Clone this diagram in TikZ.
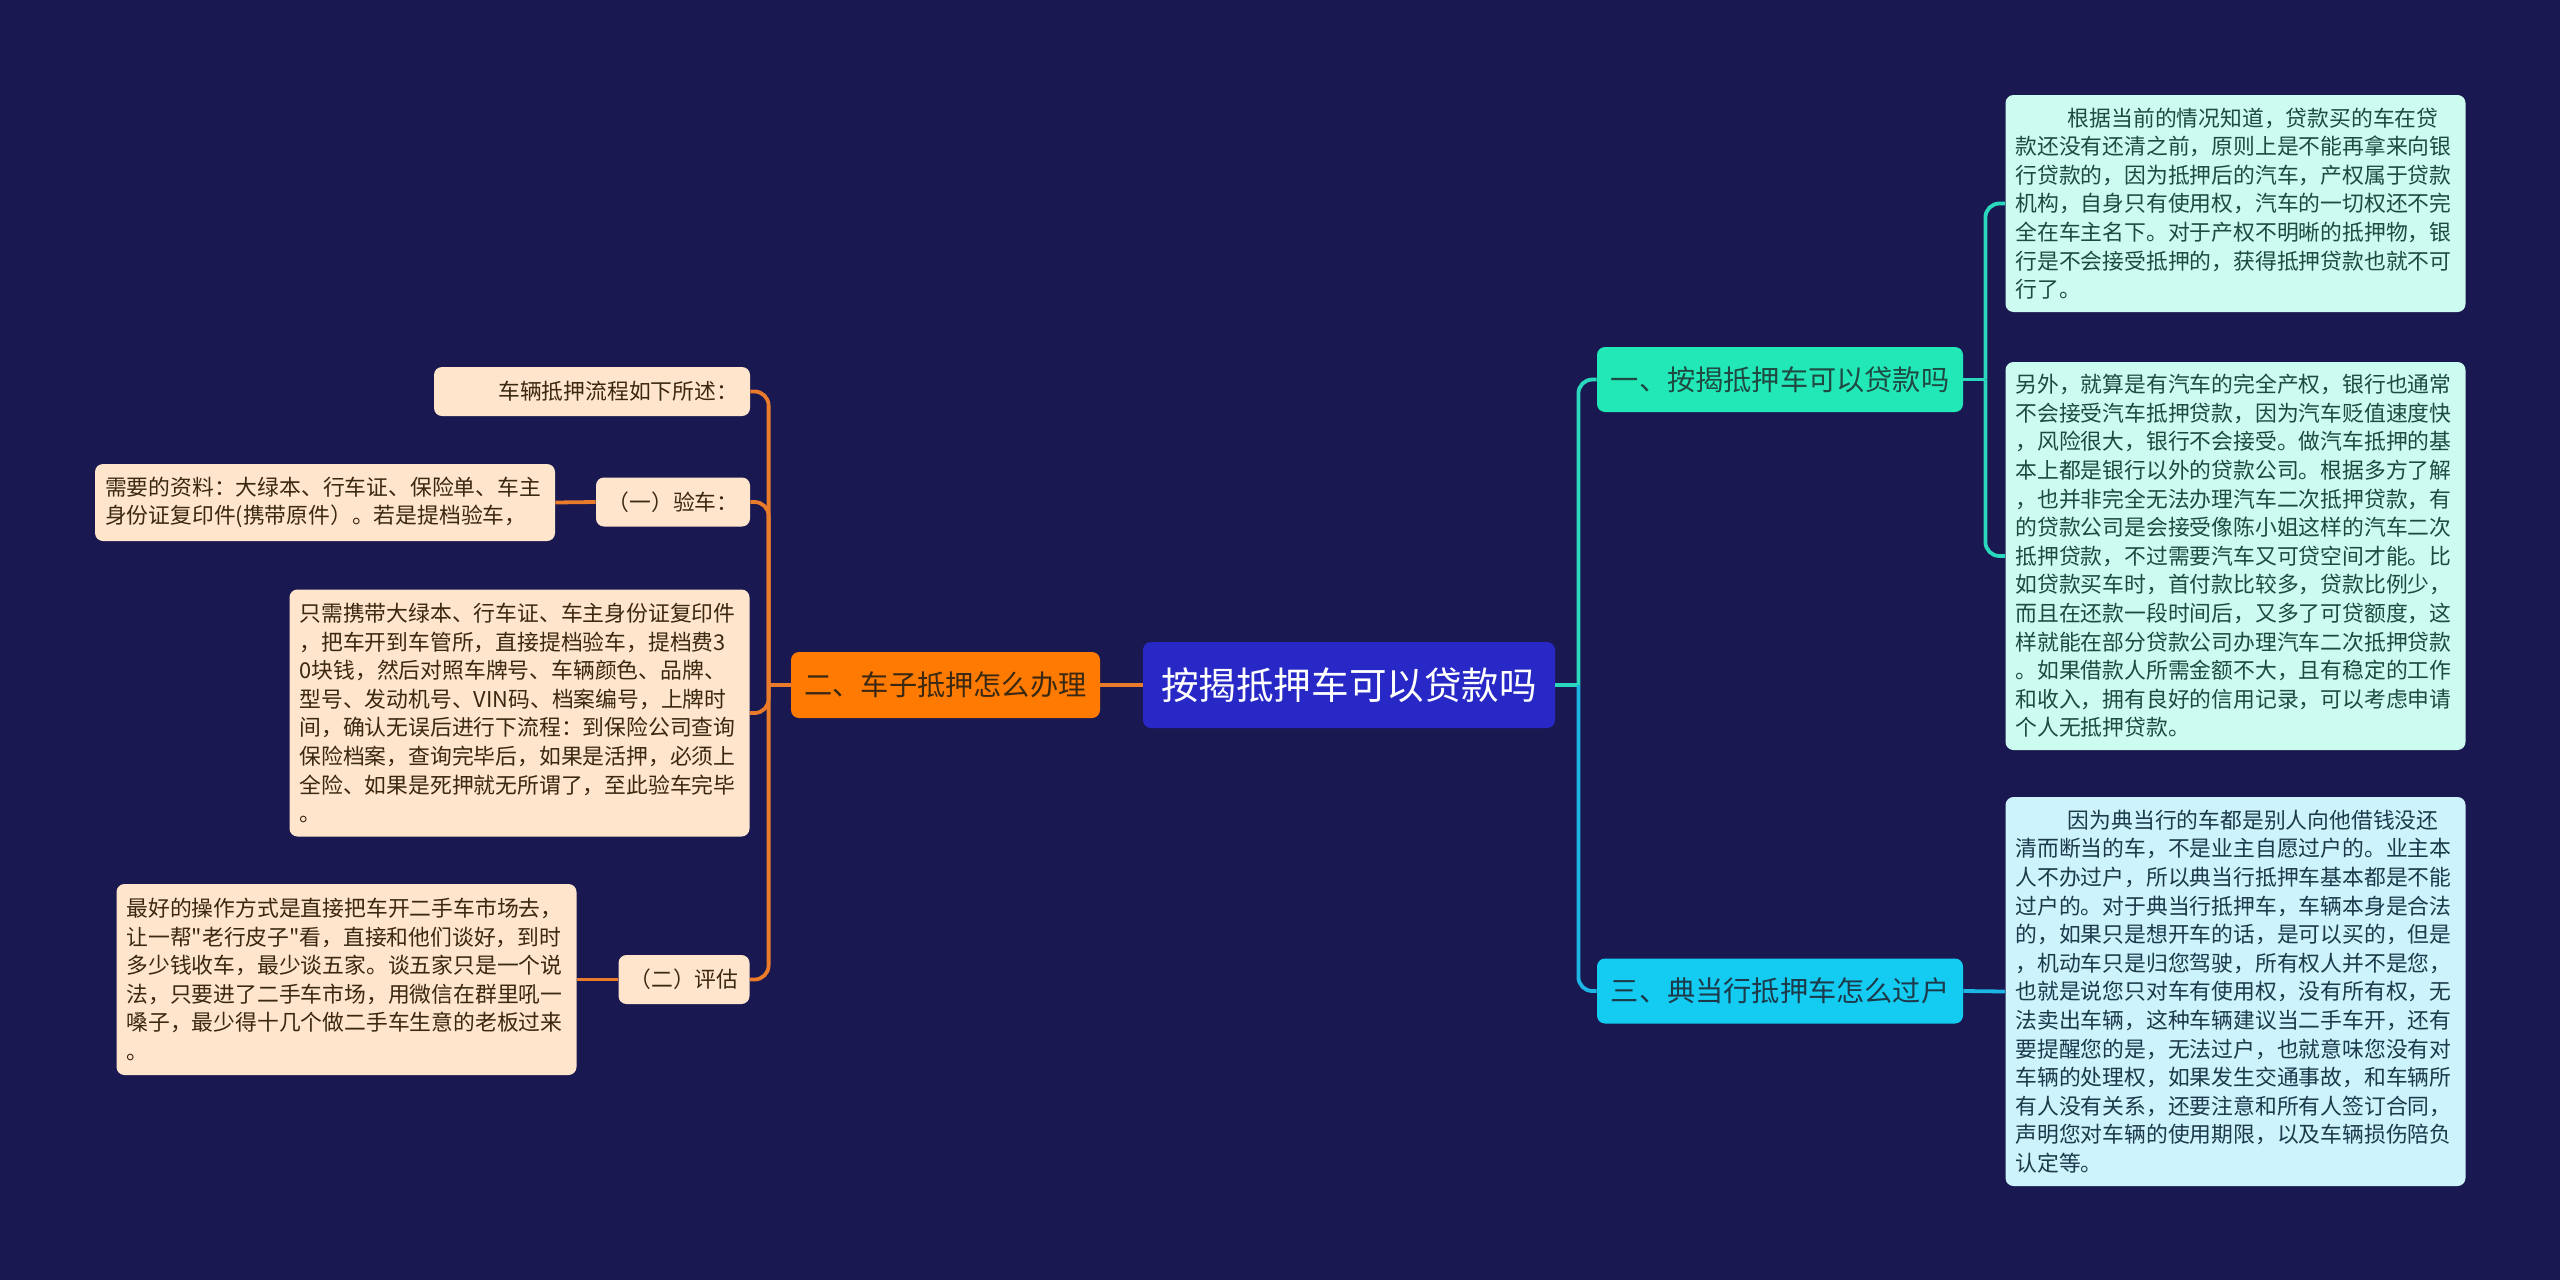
\documentclass[tikz,border=0pt]{standalone}
\usepackage{fontspec}
\setmainfont{Noto Sans CJK SC}[Ligatures=TeXOff]

\definecolor{bgnavy}{HTML}{1A1850}
\definecolor{rootblue}{HTML}{2828C6}
\definecolor{tealfill}{HTML}{22E8B8}
\definecolor{cyanfill}{HTML}{14CCF2}
\definecolor{orangefill}{HTML}{FF7A00}
\definecolor{mintleaf}{HTML}{CCFCEF}
\definecolor{iceleaf}{HTML}{CDF3FD}
\definecolor{peachleaf}{HTML}{FFE5CB}
\definecolor{tealline}{HTML}{2AD8BE}
\definecolor{cyanline}{HTML}{1CB6E6}
\definecolor{orangeline}{HTML}{E97B2A}
\definecolor{darkteal}{HTML}{1E4A42}
\definecolor{darkblue}{HTML}{1C3A4A}
\definecolor{darkbrown}{HTML}{3A2812}

\tikzset{
  rootnode/.style={fill=rootblue, text=white, rounded corners=4pt,
    minimum width=206pt, minimum height=43pt, font=\fontsize{18.8}{22}\selectfont},
  topicnode/.style={rounded corners=4pt, minimum width=183pt, minimum height=32.5pt,
    font=\fontsize{14.1}{17}\selectfont},
  leafnode/.style={rounded corners=4pt, align=left, inner xsep=5pt, inner ysep=0pt,
    text width=220pt, font=\fontsize{10.9}{14.3}\selectfont},
  tagnode/.style={rounded corners=4pt, inner xsep=4pt, inner ysep=0pt, fill=peachleaf,
    text=darkbrown, minimum height=24.5pt, font=\fontsize{10.9}{14.3}\selectfont},
  link/.style={line width=1.9pt},
  elbow/.style={link, rounded corners=7pt}
}

\begin{document}
\begin{tikzpicture}[x=0.5pt,y=-0.5pt]
\fill[bgnavy] (0,0) rectangle (2560,1280);

% centre
\node[rootnode] (root) at (1349,685) {按揭抵押车可以贷款吗};

% right side
\node[topicnode, fill=tealfill, text=darkteal] (canloan) at (1780,379.5) {一、按揭抵押车可以贷款吗};
\node[topicnode, fill=cyanfill, text=darkblue] (pawn) at (1780,991) {三、典当行抵押车怎么过户};

\node[leafnode, fill=mintleaf, text=darkteal, minimum height=108.5pt] (canloanA) at (2235.5,203.5)
{\hspace*{2.4em}根据当前的情况知道，贷款买的车在贷\\
款还没有还清之前，原则上是不能再拿来向银\\
行贷款的，因为抵押后的汽车，产权属于贷款\\
机构，自身只有使用权，汽车的一切权还不完\\
全在车主名下。对于产权不明晰的抵押物，银\\
行是不会接受抵押的，获得抵押贷款也就不可\\
行了。};
\node[leafnode, fill=mintleaf, text=darkteal, minimum height=194pt] (canloanB) at (2235.5,556)
{另外，就算是有汽车的完全产权，银行也通常\\
不会接受汽车抵押贷款，因为汽车贬值速度快\\
，风险很大，银行不会接受。做汽车抵押的基\\
本上都是银行以外的贷款公司。根据多方了解\\
，也并非完全无法办理汽车二次抵押贷款，有\\
的贷款公司是会接受像陈小姐这样的汽车二次\\
抵押贷款，不过需要汽车又可贷空间才能。比\\
如贷款买车时，首付款比较多，贷款比例少，\\
而且在还款一段时间后，又多了可贷额度，这\\
样就能在部分贷款公司办理汽车二次抵押贷款\\
。如果借款人所需金额不大，且有稳定的工作\\
和收入，拥有良好的信用记录，可以考虑申请\\
个人无抵押贷款。};
\node[leafnode, fill=iceleaf, text=darkblue, minimum height=194.5pt] (pawnA) at (2235.5,991.5)
{\hspace*{2.4em}因为典当行的车都是别人向他借钱没还\\
清而断当的车，不是业主自愿过户的。业主本\\
人不办过户，所以典当行抵押车基本都是不能\\
过户的。对于典当行抵押车，车辆本身是合法\\
的，如果只是想开车的话，是可以买的，但是\\
，机动车只是归您驾驶，所有权人并不是您，\\
也就是说您只对车有使用权，没有所有权，无\\
法卖出车辆，这种车辆建议当二手车开，还有\\
要提醒您的是，无法过户，也就意味您没有对\\
车辆的处理权，如果发生交通事故，和车辆所\\
有人没有关系，还要注意和所有人签订合同，\\
声明您对车辆的使用期限，以及车辆损伤陪负\\
认定等。};

% left side
\node[topicnode, fill=orangefill, text=darkbrown, minimum width=154.5pt, minimum height=33pt] (howto) at (945.5,685) {二、车子抵押怎么办理};

\node[tagnode, minimum width=158pt, text width=146pt, align=right] (flow) at (592,391.5) {车辆抵押流程如下所述：};
\node[tagnode, minimum width=77pt] (check) at (673,502) {（一）验车：};
\node[leafnode, fill=peachleaf, text=darkbrown, minimum height=38.5pt] (checkA) at (325,502.5)
{需要的资料：大绿本、行车证、保险单、车主\\
身份证复印件(携带原件）。若是提档验车，};
\node[leafnode, fill=peachleaf, text=darkbrown, minimum height=123.5pt] (carry) at (519.5,713)
{只需携带大绿本、行车证、车主身份证复印件\\
，把车开到车管所，直接提档验车，提档费3\\
0块钱，然后对照车牌号、车辆颜色、品牌、\\
型号、发动机号、VIN码、档案编号，上牌时\\
间，确认无误后进行下流程：到保险公司查询\\
保险档案，查询完毕后，如果是活押，必须上\\
全险、如果是死押就无所谓了，至此验车完毕\\
。};
\node[tagnode, minimum width=65.5pt] (assess) at (684,979.5) {（二）评估};
\node[leafnode, fill=peachleaf, text=darkbrown, minimum height=95.5pt] (assessA) at (346.5,979.5)
{最好的操作方式是直接把车开二手车市场去，\\
让一帮"老行皮子"看，直接和他们谈好，到时\\
多少钱收车，最少谈五家。谈五家只是一个说\\
法，只要进了二手车市场，用微信在群里吼一\\
嗓子，最少得十几个做二手车生意的老板过来\\
。};

% connectors
\draw[link, tealline] (root.east) -- ++(23,0) coordinate (rj);
\draw[elbow, tealline] (rj) |- (canloan.west);
\draw[elbow, cyanline] (rj) |- (pawn.west);
\draw[link, tealline] (canloan.east) -- ++(22,0) coordinate (cj);
\draw[elbow, tealline] (cj) |- (canloanA.west);
\draw[elbow, tealline] (cj) |- (canloanB.west);
\draw[link, cyanline] (pawn.east) -- (pawnA.west);

\draw[link, orangeline] (root.west) -- (howto.east);
\draw[link, orangeline] (howto.west) -- ++(-22,0) coordinate (lj);
\draw[elbow, orangeline] (lj) |- (flow.east);
\draw[elbow, orangeline] (lj) |- (check.east);
\draw[elbow, orangeline] (lj) |- (carry.east);
\draw[elbow, orangeline] (lj) |- (assess.east);
\draw[link, orangeline] (check.west) -- (checkA.east);
\draw[link, orangeline] (assess.west) -- (assessA.east);
\end{tikzpicture}
\end{document}
